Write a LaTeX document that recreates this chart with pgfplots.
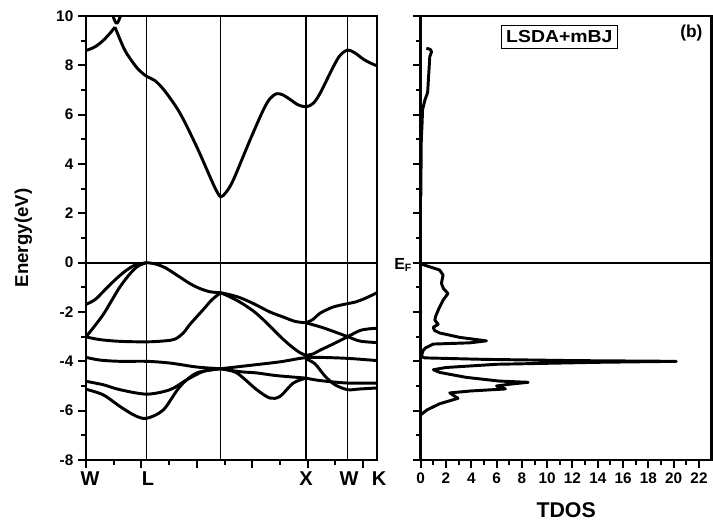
\documentclass[border=0pt]{standalone}
\usepackage{fontspec}
\setmainfont{Liberation Sans}
\usepackage{pgfplots}
\pgfplotsset{compat=1.18}
\begin{document}
\begin{tikzpicture}
\pgfplotsset{
  every axis/.append style={
    scale only axis, width=218.25pt, height=333pt,
    axis line style={line width=2pt},
    every tick/.style={line width=1.5pt, black},
    major tick length=6pt, minor tick length=3.5pt,
    tick align=outside, xtick pos=bottom, ytick pos=left,
    ymin=-8, ymax=10, ytick={-8,-6,...,10}, minor ytick={-7,-5,...,9},
    /pgf/number format/assume math mode=true,
    tick label style={font=\bfseries\fontsize{11.5}{13}\selectfont},
    clip=false,
  },
  band/.style={line width=2.2pt, black, line join=round, no marks, smooth},
  dosl/.style={line width=2.2pt, black, line join=round, no marks, sharp plot},
}
% ---------------- band structure ----------------
\begin{axis}[at={(0pt,0pt)}, anchor=south west,
  xmin=86, xmax=377,
  xtick={86,141.4,196.8,252.2,307.6,363.0}, minor xtick={113.7,169.1,224.5,279.9,335.3},
  xticklabels={},
  extra x ticks={146.7,220.7,306,347.7}, extra x tick labels={},
  extra x tick style={grid=major, major tick length=0pt, major grid style={black, line width=0.9pt}},
  extra y ticks={0}, extra y tick labels={},
  extra y tick style={grid=major, major grid style={black, line width=1.5pt}},
]
% conduction band
\addplot[band] coordinates {(86,8.6)(95,8.75)(103,9.0)(110,9.3)(115,9.55)};
\addplot[band] coordinates {(115,9.55)(120,9.05)(125,8.6)(130,8.28)(138,7.85)(146.7,7.55)(155,7.38)(165,6.95)(180,6.06)(196.7,4.70)(210,3.48)(216,2.95)(220.7,2.67)(226,2.85)(233.3,3.35)(250,4.97)(263.3,6.19)(270,6.65)(276.7,6.85)(283,6.8)(290,6.62)(298,6.4)(306,6.32)(313,6.45)(320,6.86)(333.3,7.94)(340,8.4)(347.7,8.62)(355,8.5)(363.3,8.25)(370,8.1)(377,7.98)};
\addplot[band] coordinates {(113,10)(114.8,9.8)(116.7,9.7)(118.6,9.8)(120.4,10)};
% valence bands
\addplot[band] coordinates {(86,-1.69)(95,-1.5)(105,-1.1)(115,-0.7)(125,-0.35)(135,-0.1)(146.7,0)};
\addplot[band] coordinates {(86,-3.01)(95,-2.55)(103.3,-2.1)(110,-1.65)(120,-0.98)(130,-0.45)(138,-0.14)(146.7,0)};
\addplot[band] coordinates {(146.7,0)(155,-0.05)(165,-0.2)(176.7,-0.5)(190,-0.85)(200,-1.05)(210,-1.18)(220.7,-1.22)};
\addplot[band] coordinates {(86,-3.01)(100,-3.12)(120,-3.19)(146.7,-3.21)(165,-3.17)(175,-3.1)(183.3,-2.85)(190,-2.5)(203.3,-1.9)(212,-1.5)(220.7,-1.22)};
\addplot[band] coordinates {(220.7,-1.22)(230,-1.3)(240,-1.42)(253,-1.65)(270,-2.0)(283,-2.2)(295,-2.38)(306,-2.44)};
\addplot[band] coordinates {(220.7,-1.22)(228,-1.35)(240,-1.6)(253,-1.95)(263,-2.3)(273,-2.7)(283,-3.1)(293,-3.45)(300,-3.65)(306,-3.76)};
\addplot[band] coordinates {(306,-2.44)(313,-2.3)(320,-2.05)(333,-1.8)(347.7,-1.66)(355,-1.6)(365,-1.45)(377,-1.22)};
\addplot[band] coordinates {(306,-2.44)(320,-2.6)(333,-2.78)(347.7,-3.0)(360,-3.18)(377,-3.24)};
\addplot[band] coordinates {(306,-3.76)(313,-3.7)(320,-3.55)(333,-3.3)(347.7,-3.0)(360,-2.75)(370,-2.68)(377,-2.66)};
\addplot[band] coordinates {(86,-3.84)(100,-3.95)(120,-4.0)(146.7,-4.0)(170,-4.07)(196.7,-4.23)(220.7,-4.30)};
\addplot[band] coordinates {(220.7,-4.30)(253,-4.15)(280,-4.02)(300,-3.88)(306,-3.85)(320,-3.84)(347.7,-3.88)(377,-3.97)};
\addplot[band] coordinates {(86,-4.81)(103.3,-4.95)(120,-5.15)(146.7,-5.33)(170,-5.15)(186.7,-4.75)(203.3,-4.41)(220.7,-4.30)};
\addplot[band] coordinates {(86,-5.13)(103.3,-5.36)(120,-5.83)(135,-6.2)(146.7,-6.31)(163.3,-5.97)(180,-5.02)(196.7,-4.47)(220.7,-4.30)};
\addplot[band] coordinates {(220.7,-4.30)(240,-4.42)(256.7,-4.47)(276.7,-4.58)(306,-4.68)};
\addplot[band] coordinates {(220.7,-4.30)(236.7,-4.47)(256.7,-5.15)(270,-5.49)(280,-5.42)(293.3,-4.88)(306,-4.68)};
\addplot[band] coordinates {(306,-4.68)(320,-4.78)(347.7,-4.88)(377,-4.88)};
\addplot[band] coordinates {(306,-3.9)(315,-4.1)(325,-4.6)(335,-4.95)(347.7,-5.15)(360,-5.12)(377,-5.08)};
% labels
\node[font=\bfseries\fontsize{15}{17}\selectfont] at (axis cs:90,-8.75) {W};
\node[font=\bfseries\fontsize{15}{17}\selectfont] at (axis cs:148,-8.75) {L};
\node[font=\bfseries\fontsize{15}{17}\selectfont] at (axis cs:306,-8.75) {X};
\node[font=\bfseries\fontsize{15}{17}\selectfont] at (axis cs:349,-8.75) {W};
\node[font=\bfseries\fontsize{15}{17}\selectfont] at (axis cs:379,-8.75) {K};
\node[rotate=90, font=\bfseries\fontsize{14}{16}\selectfont] at (axis description cs:-0.215,0.5) {Energy(eV)};
\end{axis}
% ---------------- TDOS ----------------
\begin{axis}[at={(251pt,0pt)}, anchor=south west,
  xmin=0, xmax=23, xtick={0,2,...,22}, minor xtick={1,3,...,21},
  yticklabels={},
  extra y ticks={0}, extra y tick labels={},
  extra y tick style={grid=major, major grid style={black, line width=1.5pt}},
]
\addplot[dosl] coordinates {(0.02,2.7)(0.03,4.0)(0.05,5.0)(0.1,5.5)(0.15,6.2)(0.34,6.6)(0.55,6.9)(0.62,7.5)(0.68,8.0)(0.72,8.35)(0.86,8.55)(0.75,8.65)(0.45,8.69)};
\addplot[dosl] coordinates {(0,0.0)(0.08,-0.06)(0.73,-0.17)(1.5,-0.30)(1.77,-0.5)(1.64,-0.84)(1.8,-1.05)(2.16,-1.25)(1.77,-1.52)(1.45,-1.85)(1.2,-2.15)(1.12,-2.33)(1.38,-2.5)(0.99,-2.62)(1.1,-2.75)(1.5,-2.85)(3.1,-3.03)(5.2,-3.17)(3.9,-3.25)(1.0,-3.30)(0.4,-3.45)(0.2,-3.55)(0.05,-3.8)(0.3,-3.86)(5,-3.92)(12,-3.97)(20.2,-4.0)(14,-4.04)(6,-4.12)(2,-4.25)(1.0,-4.34)(1.5,-4.45)(3.6,-4.65)(6.2,-4.8)(8.5,-4.85)(7,-4.93)(6.0,-5.0)(6.7,-5.12)(4,-5.2)(2.3,-5.28)(2.95,-5.5)(1.5,-5.72)(0.5,-5.97)(0,-6.17)};
\node[draw, line width=0.8pt, inner xsep=3.5pt, inner ysep=4pt, font=\bfseries\fontsize{13}{15}\selectfont] at (axis cs:10.96,9.16) {\scalebox{1.12}[1]{LSDA+mBJ}};
\node[font=\bfseries\fontsize{13}{15}\selectfont] at (axis cs:21.4,9.3) {(b)};
\node[anchor=east, font=\bfseries\fontsize{12}{14}\selectfont] at (axis cs:-0.3,-0.1) {E\textsubscript{F}};
\node[font=\bfseries\fontsize{16}{18}\selectfont] at (axis description cs:0.5,-0.113) {TDOS};
\end{axis}
\pgfresetboundingbox
\path (-64.5pt,-50.25pt) rectangle (470.25pt,345pt);
\end{tikzpicture}
\end{document}
